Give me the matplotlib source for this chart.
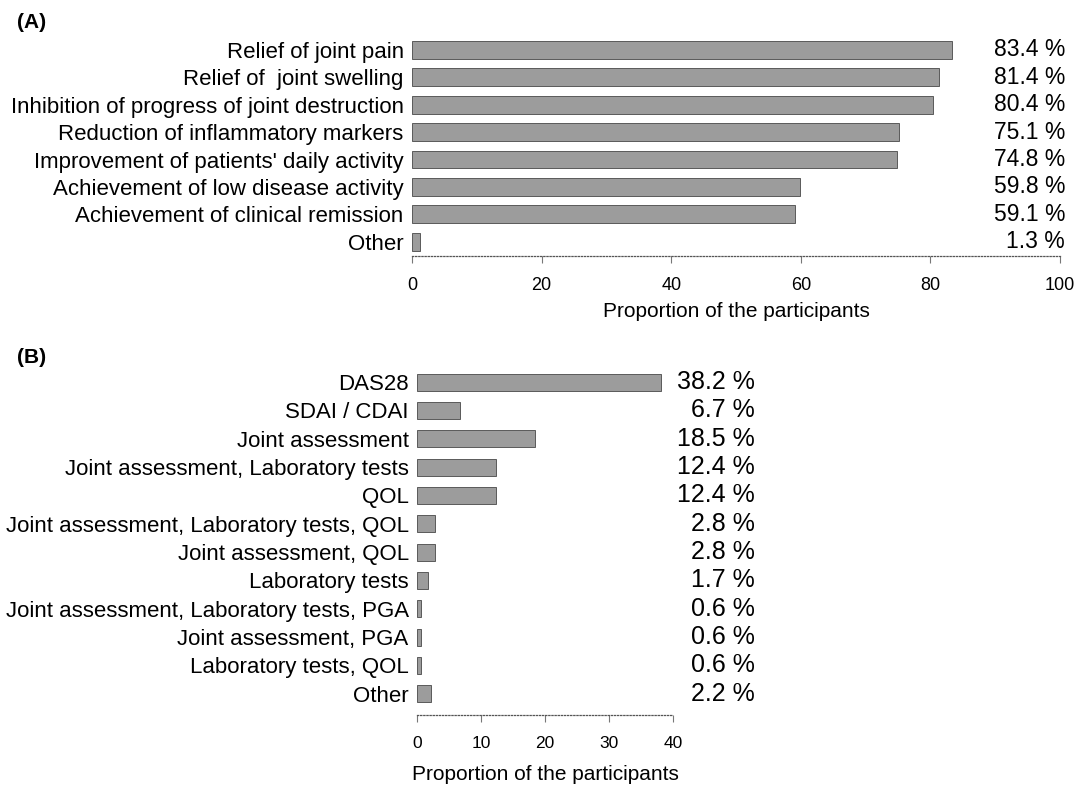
import matplotlib
matplotlib.use("Agg")
import matplotlib.pyplot as plt

plt.rcParams['font.family'] = ['Liberation Sans', 'DejaVu Sans']

# ----------------------------
# Data
# ----------------------------

goals = [
    "Relief of joint pain",
    "Relief of  joint swelling",
    "Inhibition of progress of joint destruction",
    "Reduction of inflammatory markers",
    "Improvement of patients' daily activity",
    "Achievement of low disease activity",
    "Achievement of clinical remission",
    "Other",
]
goal_pct = [83.4, 81.4, 80.4, 75.1, 74.8, 59.8, 59.1, 1.3]

measures = [
    "DAS28",
    "SDAI / CDAI",
    "Joint assessment",
    "Joint assessment, Laboratory tests",
    "QOL",
    "Joint assessment, Laboratory tests, QOL",
    "Joint assessment, QOL",
    "Laboratory tests",
    "Joint assessment, Laboratory tests, PGA",
    "Joint assessment, PGA",
    "Laboratory tests, QOL",
    "Other",
]
measure_pct = [38.2, 6.7, 18.5, 12.4, 12.4, 2.8, 2.8, 1.7, 0.6, 0.6, 0.6, 2.2]

bar_color = "#9c9c9c"
edge_color = "#5a5a5a"

fig = plt.figure(figsize=(10.8, 7.89), dpi=100)


def style_axis(ax, ticks, tick_size):
    for s in ["left", "right", "top"]:
        ax.spines[s].set_visible(False)
    ax.spines["bottom"].set_linestyle((0, (1, 1.5)))
    ax.spines["bottom"].set_color("#555555")
    ax.spines["bottom"].set_linewidth(0.9)
    ax.set_xticks(ticks)
    ax.tick_params(axis="x", length=5, width=0.8, color="#777777",
                   labelsize=tick_size, pad=10)
    ax.tick_params(axis="y", length=0, labelsize=16, pad=6)


# ----------------------------
# Panel A
# ----------------------------

axA = fig.add_axes([0.3815, 0.6755, 0.600, 0.2785])
ya = list(range(len(goals)))
axA.barh(ya, goal_pct, height=0.65, color=bar_color, edgecolor=edge_color, linewidth=0.7)
axA.set_yticks(ya)
axA.set_yticklabels(goals)
axA.set_ylim(len(goals) - 0.48, -0.5)
axA.set_xlim(0, 100)
style_axis(axA, [0, 20, 40, 60, 80, 100], 13)
axA.set_xlabel("Proportion of the participants", fontsize=15, labelpad=6)
for y, v in zip(ya, goal_pct):
    axA.text(1.008, y, f"{v:.1f} %", transform=axA.get_yaxis_transform(),
             ha="right", va="center", fontsize=16.5)

fig.text(0.016, 0.971, "(A)", fontsize=15, fontweight="bold", ha="left", va="center")

# ----------------------------
# Panel B
# ----------------------------

axB = fig.add_axes([0.3861, 0.0938, 0.2370, 0.4398])
yb = list(range(len(measures)))
axB.barh(yb, measure_pct, height=0.6, color=bar_color, edgecolor=edge_color, linewidth=0.7)
axB.set_yticks(yb)
axB.set_yticklabels(measures)
axB.set_ylim(len(measures) - 0.25, -0.5)
axB.set_xlim(0, 40)
style_axis(axB, [0, 10, 20, 30, 40], 12.5)
axB.set_xlabel("Proportion of the participants", fontsize=15, labelpad=10)
for y, v in zip(yb, measure_pct):
    axB.text(1.32, y, f"{v:.1f} %", transform=axB.get_yaxis_transform(),
             ha="right", va="center", fontsize=18)

fig.text(0.016, 0.547, "(B)", fontsize=15, fontweight="bold", ha="left", va="center")

fig.savefig("out.png", dpi=100)
plt.close(fig)
